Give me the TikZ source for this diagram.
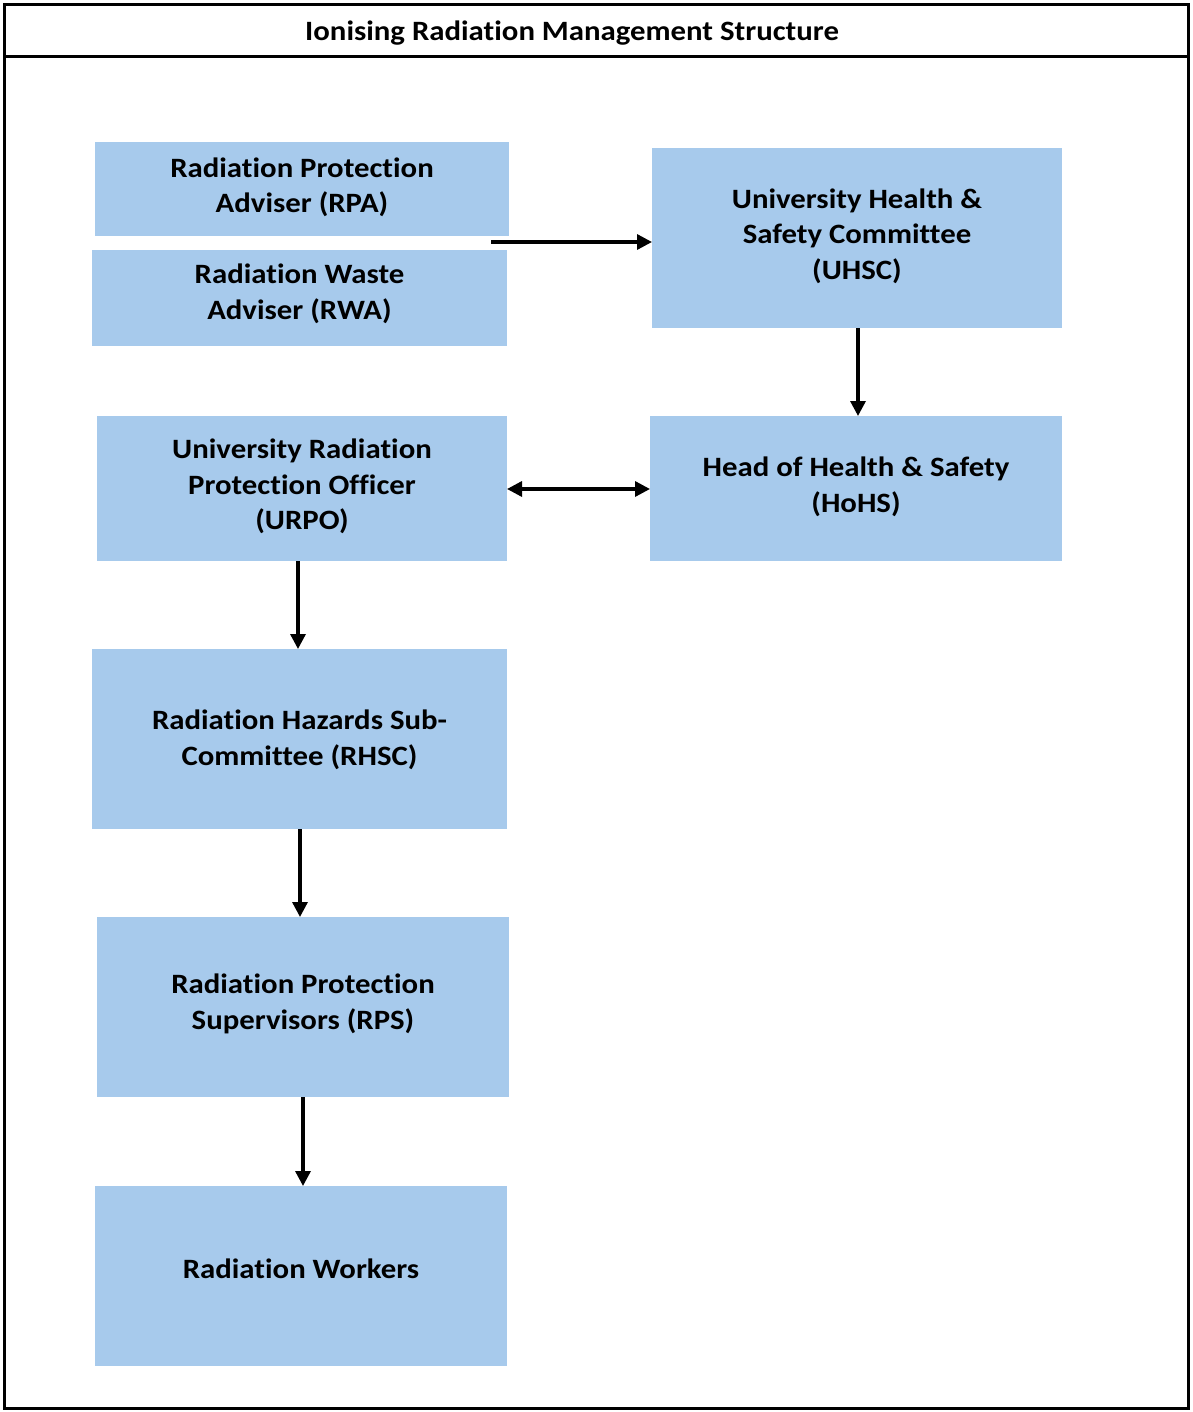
\documentclass[tikz,border=0pt]{standalone}
\usepackage{fontspec}
\setmainfont{Carlito}[FakeStretch=1.1, Ligatures=NoCommon]
\usetikzlibrary{arrows.meta}
\definecolor{boxblue}{RGB}{167,202,236}
\begin{document}
\begin{tikzpicture}[x=1pt,y=-1pt,
  every node/.style={font=\bfseries\fontsize{28}{35.5}\selectfont, align=center, inner sep=0pt, outer sep=0pt},
  bluebox/.style={fill=boxblue, draw=none, anchor=north west},
  conn/.style={line width=3.3pt, -{Triangle[length=15pt,width=15pt]}},
  conn2/.style={line width=3.3pt, {Triangle[length=15pt,width=15pt]}-{Triangle[length=15pt,width=15pt]}}]
\useasboundingbox (0,0) rectangle (1192,1412);
% frame
\draw[line width=3pt] (4.5,4.5) rectangle (1188.5,1408.5);
\draw[line width=3pt] (4.5,57) -- (1188.5,57);
\node (title) at (572,33) {Ionising Radiation Management Structure};
% boxes
\node[bluebox, minimum width=414pt, minimum height=94pt] (rpa) at (95,142) {};
\node at ([yshift=1.5]rpa.center) {Radiation Protection\\Adviser (RPA)};
\node[bluebox, minimum width=415pt, minimum height=96pt] (rwa) at (92,250) {};
\node at ([yshift=4]rwa.center) {Radiation Waste\\Adviser (RWA)};
\node[bluebox, minimum width=410pt, minimum height=180pt] (uhsc) at (652,148) {};
\node at ([yshift=2]uhsc.center) {University Health \&\\Safety Committee\\(UHSC)};
\node[bluebox, minimum width=412pt, minimum height=145pt] (hohs) at (650,416) {};
\node at ([yshift=1.5]hohs.center) {Head of Health \& Safety\\(HoHS)};
\node[bluebox, minimum width=410pt, minimum height=145pt] (urpo) at (97,416) {};
\node at ([yshift=2]urpo.center) {University Radiation\\Protection Officer\\(URPO)};
\node[bluebox, minimum width=415pt, minimum height=180pt] (rhsc) at (92,649) {};
\node at ([yshift=-1]rhsc.center) {Radiation Hazards Sub-\\Committee (RHSC)};
\node[bluebox, minimum width=412pt, minimum height=180pt] (rps) at (97,917) {};
\node at ([yshift=3]rps.center) {Radiation Protection\\Supervisors (RPS)};
\node[bluebox, minimum width=412pt, minimum height=180pt] (rw) at (95,1186) {};
\node at ([yshift=7]rw.center) {Radiation Workers};
% connectors
\coordinate (advstart) at (491,242);
\draw[conn] (advstart) -- (advstart -| uhsc.west);
\draw[conn] (uhsc.south -| 858,0) -- (hohs.north -| 858,0);
\draw[conn2] (urpo.east |- 0,489) -- (hohs.west |- 0,489);
\draw[conn] (urpo.south -| 298,0) -- (rhsc.north -| 298,0);
\draw[conn] (rhsc.south -| 300,0) -- (rps.north -| 300,0);
\draw[conn] (rps.south -| 303,0) -- (rw.north -| 303,0);
\end{tikzpicture}
\end{document}
